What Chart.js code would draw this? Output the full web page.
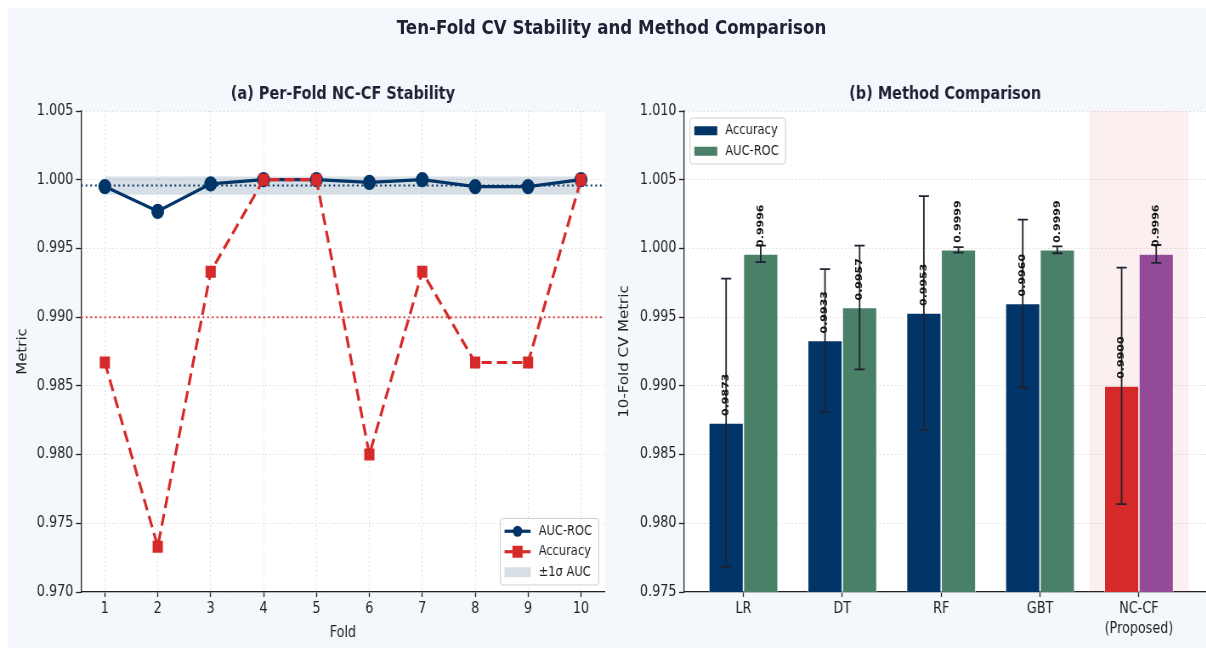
<!DOCTYPE html>
<html>
<head>
<meta charset="utf-8">
<script src="https://cdn.jsdelivr.net/npm/chart.js@4.4.0/dist/chart.umd.min.js"></script>
<style>
  html, body { margin: 0; padding: 0; width: 1206px; height: 648px; overflow: hidden; background: #ffffff; }
  #bg { position: absolute; left: 8px; top: 8px; right: 0; bottom: 0; background: #f4f7fb; }
  /* the figure is laid out on a wider sheet and squeezed horizontally */
  #fig { position: absolute; left: 0; top: 0; width: 1419px; height: 648px; transform: scaleX(0.85); transform-origin: 0 0; }
  #title { position: absolute; top: 17px; left: 719.4px; transform: translateX(-50%); white-space: nowrap;
           font: bold 19.6px "DejaVu Sans"; line-height: 22px; color: #1f2235; }
  #cl { position: absolute; left: 0; top: 0; }
  #cr { position: absolute; left: 706px; top: 0; }
</style>
</head>
<body>
<div id="bg"></div>
<div id="fig">
  <div id="title">Ten-Fold CV Stability and Method Comparison</div>
  <canvas id="cl" width="729" height="648"></canvas>
  <canvas id="cr" width="713" height="648"></canvas>
</div>
<script>
// ---------- (a) per-fold stability ----------
const folds = [1, 2, 3, 4, 5, 6, 7, 8, 9, 10];
const foldAuc = [0.9995, 0.9977, 0.9997, 1.0000, 1.0000, 0.9998, 1.0000, 0.9995, 0.9995, 1.0000];
const foldAcc = [0.9867, 0.9733, 0.9933, 1.0000, 1.0000, 0.9800, 0.9933, 0.9867, 0.9867, 1.0000];
const foldTicksY = [0.970, 0.975, 0.980, 0.985, 0.990, 0.995, 1.000, 1.005];

// ---------- (b) method comparison ----------
const methods = ['LR', 'DT', 'RF', 'GBT', ['NC-CF', '(Proposed)']];
const methodAcc = [0.9873, 0.9933, 0.9953, 0.9960, 0.9900];
const methodAccStd = [0.0105, 0.0052, 0.0085, 0.0061, 0.0086];
const methodAuc = [0.9996, 0.9957, 0.9999, 0.9999, 0.9996];
const methodAucStd = [0.0006, 0.0045, 0.0002, 0.00025, 0.00065];
const methodTicksY = [0.975, 0.980, 0.985, 0.990, 0.995, 1.000, 1.005, 1.010];
const proposedIdx = 4;

// ---------- summary statistics of the folds ----------
const mean = a => a.reduce((s, v) => s + v, 0) / a.length;
const aucMean = mean(foldAuc);
const aucStd = Math.sqrt(mean(foldAuc.map(v => (v - aucMean) ** 2)));
const accMean = mean(foldAcc);

// ---------- styling ----------
const FONT = '"DejaVu Sans"';
const INK = '#222222';
const NAVY = '#023567';
const RED = '#d62a2a';
const GREEN = '#4a7f68';
const PURPLE = '#934a97';
const BAND = 'rgba(0, 51, 102, 0.16)';
const GRID = '#d6d6d6';

Chart.defaults.font.family = FONT;
Chart.defaults.color = INK;

const tickFont = { family: FONT, size: 15 };

function yAxis(ticks, min, max, width, text, titlePad) {
  return {
    type: 'linear', min, max,
    afterBuildTicks: ax => { ax.ticks = ticks.map(v => ({ value: v })); },
    afterFit: ax => { ax.width = width; },
    ticks: { callback: v => v.toFixed(3), font: tickFont, color: INK, padding: 3 },
    grid: { color: GRID, lineWidth: 1, tickColor: INK, tickLength: 6, tickWidth: 1.3 },
    border: { color: INK, width: 1.3, dash: [1.5, 3] },
    title: { display: true, text, font: tickFont, color: INK, padding: { top: titlePad, bottom: 0 } }
  };
}

const plotBg = {
  id: 'plotBg',
  beforeDraw(chart) {
    const a = chart.chartArea, ctx = chart.ctx;
    ctx.save();
    ctx.fillStyle = '#ffffff';
    ctx.fillRect(a.left, a.top, a.right - a.left, a.bottom - a.top);
    ctx.restore();
  }
};

function panelTitle(text) {
  return {
    id: 'panelTitle',
    afterDraw(chart) {
      const a = chart.chartArea, ctx = chart.ctx;
      ctx.save();
      ctx.font = 'bold 17px ' + FONT;
      ctx.fillStyle = '#1f2235';
      ctx.textAlign = 'center';
      ctx.textBaseline = 'middle';
      ctx.fillText(text, (a.left + a.right) / 2, a.top - 16);
      ctx.restore();
    }
  };
}

// legend box drawn inside the plot area
function boxLegend(items, corner, sampleW) {
  return {
    id: 'boxLegend',
    afterDraw(chart) {
      const a = chart.chartArea, ctx = chart.ctx;
      ctx.save();
      ctx.font = '13.5px ' + FONT;
      const textW = Math.max(...items.map(it => ctx.measureText(it.text).width));
      const padX = 5, gap = 9.5, rowH = 20.5, padY = 2.5;
      const w = padX + sampleW + gap + textW + 8;
      const h = items.length * rowH + 2 * padY;
      const x0 = corner === 'br' ? a.right - 7 - w : a.left + 7;
      const y0 = corner === 'br' ? a.bottom - 7 - h : a.top + 7;
      ctx.beginPath();
      ctx.roundRect(x0, y0, w, h, 3);
      ctx.fillStyle = 'rgba(255,255,255,0.85)';
      ctx.fill();
      ctx.strokeStyle = '#cfcfcf';
      ctx.lineWidth = 1;
      ctx.stroke();
      items.forEach((it, k) => {
        const cy = y0 + padY + rowH * (k + 0.5);
        const sx = x0 + padX;
        it.draw(ctx, sx, cy, sampleW);
        ctx.fillStyle = INK;
        ctx.textAlign = 'left';
        ctx.textBaseline = 'middle';
        ctx.fillText(it.text, sx + sampleW + gap, cy);
      });
      ctx.restore();
    }
  };
}

// ---------- (a) chart ----------
const meanLines = {
  id: 'meanLines',
  beforeDatasetsDraw(chart) {
    const a = chart.chartArea, ctx = chart.ctx, y = chart.scales.y;
    ctx.save();
    [[aucMean, NAVY, 2, [2, 3.5]], [accMean, '#e03a3a', 2, [2, 3.5]]].forEach(([v, c, lw, dash]) => {
      const py = y.getPixelForValue(v);
      ctx.strokeStyle = c;
      ctx.lineWidth = lw;
      ctx.setLineDash(dash);
      ctx.beginPath();
      ctx.moveTo(a.left, py);
      ctx.lineTo(a.right, py);
      ctx.stroke();
    });
    ctx.restore();
  }
};

new Chart(document.getElementById('cl'), {
  type: 'line',
  data: {
    datasets: [
      {
        label: 'AUC-ROC', order: 2,
        data: folds.map((f, i) => ({ x: f, y: foldAuc[i] })),
        borderColor: NAVY, backgroundColor: NAVY, borderWidth: 3.2,
        pointStyle: 'circle', pointRadius: 6, pointBackgroundColor: NAVY, pointBorderColor: NAVY,
        tension: 0, fill: false
      },
      {
        label: 'Accuracy', order: 1,
        data: folds.map((f, i) => ({ x: f, y: foldAcc[i] })),
        borderColor: RED, backgroundColor: RED, borderWidth: 3.2, borderDash: [12, 6],
        pointStyle: 'rect', pointRadius: 8.5, pointBackgroundColor: RED, pointBorderColor: RED, pointBorderWidth: 0,
        tension: 0, fill: false
      },
      {
        label: 'upper', order: 3,
        data: folds.map(f => ({ x: f, y: aucMean + aucStd })),
        borderWidth: 0, pointRadius: 0, fill: false
      },
      {
        label: '\u00b11\u03c3 AUC', order: 3,
        data: folds.map(f => ({ x: f, y: aucMean - aucStd })),
        borderWidth: 0, pointRadius: 0, fill: '-1', backgroundColor: BAND
      }
    ]
  },
  options: {
    responsive: false, animation: false,
    layout: { padding: { top: 111, left: 0, right: 17.5, bottom: 0 } },
    plugins: { legend: { display: false }, tooltip: { enabled: false } },
    scales: {
      x: {
        type: 'linear', min: 0.55, max: 10.45,
        afterBuildTicks: ax => { ax.ticks = folds.map(v => ({ value: v })); },
        afterFit: ax => { ax.height = 56; },
        ticks: { callback: v => String(v), font: tickFont, color: INK, padding: 3, autoSkip: false, maxRotation: 0 },
        grid: { color: GRID, lineWidth: 1, tickColor: INK, tickLength: 5, tickWidth: 1.3 },
        border: { color: INK, width: 1.3, dash: [1.5, 3] },
        title: { display: true, text: 'Fold', font: tickFont, color: INK, padding: { top: 0, bottom: 6 } }
      },
      y: yAxis(foldTicksY, 0.970, 1.005, 95.3, 'Metric', 18.3)
    }
  },
  plugins: [plotBg, meanLines, panelTitle('(a) Per-Fold NC-CF Stability'), boxLegend([
    { text: 'AUC-ROC', draw(ctx, x, y, w) {
        ctx.strokeStyle = NAVY; ctx.lineWidth = 3.2;
        ctx.beginPath(); ctx.moveTo(x, y); ctx.lineTo(x + w, y); ctx.stroke();
        ctx.fillStyle = NAVY; ctx.beginPath(); ctx.arc(x + w / 2, y, 5.5, 0, Math.PI * 2); ctx.fill();
      } },
    { text: 'Accuracy', draw(ctx, x, y, w) {
        ctx.strokeStyle = RED; ctx.lineWidth = 3.2;
        ctx.beginPath(); ctx.moveTo(x, y); ctx.lineTo(x + w, y); ctx.stroke();
        ctx.fillStyle = RED; ctx.fillRect(x + w / 2 - 6, y - 6, 12, 12);
      } },
    { text: '\u00b11\u03c3 AUC', draw(ctx, x, y, w) {
        ctx.fillStyle = BAND; ctx.fillRect(x, y - 5, w, 10);
      } }
  ], 'br', 30.6)]
});

// ---------- (b) chart ----------
const highlight = {
  id: 'highlight',
  beforeDatasetsDraw(chart) {
    const a = chart.chartArea, ctx = chart.ctx, x = chart.scales.x;
    const x1 = x.getPixelForValue(proposedIdx - 0.5), x2 = x.getPixelForValue(proposedIdx + 0.5);
    ctx.save();
    ctx.fillStyle = 'rgba(220, 40, 40, 0.075)';
    ctx.fillRect(x1, a.top, x2 - x1, a.bottom - a.top);
    ctx.restore();
  }
};

const errorBars = {
  id: 'errorBars',
  afterDatasetsDraw(chart) {
    const ctx = chart.ctx, y = chart.scales.y, cap = 6;
    ctx.save();
    ctx.strokeStyle = '#1f2230';
    ctx.lineWidth = 1.8;
    [[methodAcc, methodAccStd], [methodAuc, methodAucStd]].forEach(([vals, errs], d) => {
      chart.getDatasetMeta(d).data.forEach((bar, i) => {
        const top = y.getPixelForValue(vals[i] + errs[i]);
        const bot = y.getPixelForValue(vals[i] - errs[i]);
        ctx.beginPath();
        ctx.moveTo(bar.x, top); ctx.lineTo(bar.x, bot);
        ctx.moveTo(bar.x - cap, top); ctx.lineTo(bar.x + cap, top);
        ctx.moveTo(bar.x - cap, bot); ctx.lineTo(bar.x + cap, bot);
        ctx.stroke();
      });
    });
    // value labels above each bar
    ctx.font = 'bold 11px ' + FONT;
    ctx.fillStyle = '#111111';
    ctx.textAlign = 'left';
    ctx.textBaseline = 'middle';
    [methodAcc, methodAuc].forEach((vals, d) => {
      chart.getDatasetMeta(d).data.forEach((bar, i) => {
        ctx.save();
        ctx.translate(bar.x, y.getPixelForValue(vals[i]) - 7);
        ctx.rotate(-Math.PI / 2);
        ctx.fillText(vals[i].toFixed(4), 0, 0);
        ctx.restore();
      });
    });
    ctx.restore();
  }
};

new Chart(document.getElementById('cr'), {
  type: 'bar',
  data: {
    datasets: [
      {
        label: 'Accuracy',
        data: methods.map((m, i) => ({ x: i, y: methodAcc[i] })),
        backgroundColor: methods.map((m, i) => i === proposedIdx ? RED : NAVY),
        borderColor: 'rgba(255,255,255,0.9)', borderWidth: 0.8
      },
      {
        label: 'AUC-ROC',
        data: methods.map((m, i) => ({ x: i, y: methodAuc[i] })),
        backgroundColor: methods.map((m, i) => i === proposedIdx ? PURPLE : GREEN),
        borderColor: 'rgba(255,255,255,0.9)', borderWidth: 0.8
      }
    ]
  },
  options: {
    responsive: false, animation: false,
    categoryPercentage: 0.7, barPercentage: 1.0,
    layout: { padding: { top: 111, left: 0, right: 0, bottom: 0 } },
    plugins: { legend: { display: false }, tooltip: { enabled: false } },
    scales: {
      x: {
        type: 'linear', min: -0.6, max: 4.68, offset: false,
        afterBuildTicks: ax => { ax.ticks = methods.map((m, i) => ({ value: i })); },
        afterFit: ax => { ax.height = 56; },
        ticks: { callback: v => methods[Math.round(v)], font: { family: FONT, size: 15, lineHeight: 1.33 },
                 color: INK, padding: 2, autoSkip: false, maxRotation: 0 },
        grid: { offset: false, drawOnChartArea: false, tickColor: INK, tickLength: 5, tickWidth: 1.3 },
        border: { color: INK, width: 1.3 }
      },
      y: yAxis(methodTicksY, 0.975, 1.010, 98.8, '10-Fold CV Metric', 20.4)
    }
  },
  plugins: [plotBg, highlight, errorBars, panelTitle('(b) Method Comparison'), boxLegend([
    { text: 'Accuracy', draw(ctx, x, y, w) { ctx.fillStyle = NAVY; ctx.fillRect(x, y - 4.5, w, 9); } },
    { text: 'AUC-ROC', draw(ctx, x, y, w) { ctx.fillStyle = GREEN; ctx.fillRect(x, y - 4.5, w, 9); } }
  ], 'tl', 27)]
});
</script>
</body>
</html>
